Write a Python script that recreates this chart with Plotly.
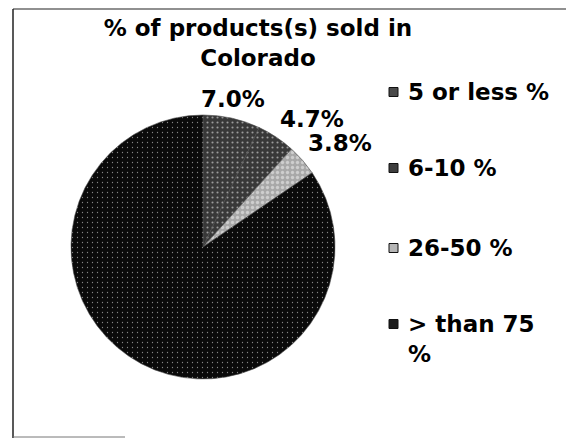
import math
import plotly.graph_objects as go

# ---- data ----
categories = ["5 or less %", "6-10 %", "26-50 %", "> than 75 %"]
legend_text = ["5 or less %", "6-10 %", "26-50 %", "> than 75<br>%"]
values = [7.0, 4.7, 3.8, 84.5]
show_label = [True, True, True, False]
title_text = "% of products(s) sold in<br>Colorado"

# ---- styles ----
bg_colors = ["#383838", "#383838", "#a8a8a8", "#0a0a0a"]
fg_colors = ["#ffffff", "#ffffff", "#f4f4f4", "#ffffff"]
solidity = [0.14, 0.14, 0.35, 0.05]
legend_swatch = ["#4a4a4a", "#3e3e3e", "#b5b5b5", "#1c1c1c"]
FONT = "DejaVu Sans"
W, H = 566, 439

# pie geometry in pixels (domain)
CX, CY, R = 203, 247, 132

fig = go.Figure()
fig.add_trace(go.Pie(
    labels=categories,
    values=values,
    sort=False,
    direction="clockwise",
    rotation=0,
    textinfo="none",
    marker=dict(
        colors=bg_colors,
        line=dict(color="#4a4a4a", width=0.6),
        pattern=dict(shape=".", fgcolor=fg_colors, bgcolor=bg_colors,
                     size=5, solidity=solidity, fillmode="overlay"),
    ),
    domain=dict(x=[(CX - R) / W, (CX + R) / W],
                y=[1 - (CY + R) / H, 1 - (CY - R) / H]),
    showlegend=False,
    hoverinfo="label+percent",
))

annotations = []
shapes = []

# percentage labels outside the slices, positioned from the slice mid-angles
total = sum(values)
cum = 0.0
for v, s in zip(values, show_label):
    mid = (cum + v / 2) / total * 2 * math.pi
    cum += v
    if not s:
        continue
    rr = R + 4
    px = CX + rr * math.sin(mid)
    py = CY - rr * math.cos(mid)
    annotations.append(dict(
        text=f"{v / total * 100:.1f}%", xref="paper", yref="paper",
        x=px / W, y=1 - py / H,
        xanchor="center" if math.sin(mid) < 0.3 else "left",
        yanchor="bottom", showarrow=False,
        font=dict(family=FONT, size=23, color="black", weight="bold")))

# manual legend built from the category lists
legend_y = [92, 168, 248, 324]
for txt, sw, ly in zip(legend_text, legend_swatch, legend_y):
    shapes.append(dict(type="rect", xref="paper", yref="paper",
                       x0=389 / W, x1=398 / W,
                       y0=1 - (ly + 4.5) / H, y1=1 - (ly - 4.5) / H,
                       fillcolor=sw, line=dict(color="#111111", width=1)))
    annotations.append(dict(text=txt, xref="paper", yref="paper",
                            x=406 / W, y=1 - (ly - 15) / H,
                            xanchor="left", yanchor="top", align="left",
                            showarrow=False,
                            font=dict(family=FONT, size=23, color="black",
                                      weight="bold")))

# chart border (left, top, bottom)
shapes.append(dict(type="line", xref="paper", yref="paper",
                   x0=13 / W, x1=13 / W, y0=1 - 438 / H, y1=1 - 9 / H,
                   line=dict(color="#222222", width=1.5)))
shapes.append(dict(type="line", xref="paper", yref="paper",
                   x0=13 / W, x1=1, y0=1 - 9 / H, y1=1 - 9 / H,
                   line=dict(color="#222222", width=1.2)))
shapes.append(dict(type="line", xref="paper", yref="paper",
                   x0=13 / W, x1=125 / W, y0=1 - 437 / H, y1=1 - 437 / H,
                   line=dict(color="#777777", width=1)))

fig.update_layout(
    width=W, height=H,
    margin=dict(l=0, r=0, t=0, b=0),
    paper_bgcolor="white",
    plot_bgcolor="white",
    title=dict(text=title_text, x=258 / W, xanchor="center",
               y=1 - 36 / H, yanchor="top", yref="container",
               font=dict(family=FONT, size=23, color="black", weight="bold")),
    shapes=shapes,
    annotations=annotations,
    showlegend=False,
)

fig.write_html("out.html")
